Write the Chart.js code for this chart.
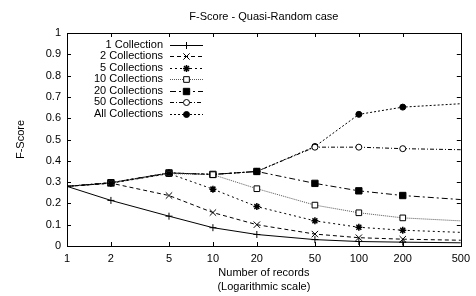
<html lang="en">
<head>
    <meta charset="UTF-8">
    <title>F-Score - Quasi-Random case</title>
    <script src="https://cdn.jsdelivr.net/npm/chart.js"></script>
    <style>
        body {
            margin: 0;
            padding: 0;
            background: #fff;
        }
        .wrap {
            width: 476px;
            height: 296px;
        }
    </style>
</head>
<body>
    <div class="wrap">
        <canvas id="fscoreChart" width="476" height="296"></canvas>
    </div>

    <script>
        // x values (number of records, log scale)
        const records = [1, 2, 5, 10, 20, 50, 100, 200, 500];
        const xTicks = [1, 2, 5, 10, 20, 50, 100, 200, 500];

        // F-Score per number of collections
        const oneCollection  = [0.28, 0.214, 0.14, 0.086, 0.054, 0.030, 0.021, 0.018, 0.015];
        const twoCollections = [0.28, 0.295, 0.237, 0.157, 0.100, 0.056, 0.039, 0.032, 0.027];
        const fiveCollections = [0.28, 0.295, 0.340, 0.267, 0.185, 0.118, 0.088, 0.074, 0.064];
        const tenCollections = [0.28, 0.295, 0.340, 0.335, 0.269, 0.192, 0.156, 0.132, 0.118];
        const twentyCollections = [0.28, 0.297, 0.343, 0.336, 0.350, 0.294, 0.259, 0.237, 0.218];
        const fiftyCollections = [0.28, 0.297, 0.343, 0.336, 0.350, 0.464, 0.464, 0.457, 0.452];
        const allCollections = [0.28, 0.297, 0.343, 0.336, 0.350, 0.467, 0.618, 0.652, 0.668];

        const seriesNames = ['1 Collection', '2 Collections', '5 Collections', '10 Collections',
                             '20 Collections', '50 Collections', 'All Collections'];

        Chart.defaults.font.family = "'Liberation Sans', Arial, sans-serif";
        Chart.defaults.font.size = 11;
        Chart.defaults.color = '#000';

        function series(label, values, style) {
            const last = values.length - 1;
            return Object.assign({
                label: label,
                data: records.map((x, i) => ({ x: x, y: values[i] })),
                borderColor: '#000',
                borderWidth: 1,
                pointBorderColor: '#000',
                pointBorderWidth: 1,
                tension: 0,
                fill: false,
                // points on the frame are clipped, like gnuplot
                pointRadius: ctx => (ctx.dataIndex === last || ctx.dataIndex === 0) ? 0 : style.r
            }, style);
        }

        const datasets = [
            series(seriesNames[0], oneCollection, { borderDash: [], pointStyle: 'cross', r: 3.5, pointBackgroundColor: '#000' }),
            series(seriesNames[1], twoCollections, { borderDash: [4, 3], pointStyle: 'crossRot', r: 4.5, pointBackgroundColor: '#000' }),
            series(seriesNames[2], fiveCollections, { borderDash: [2, 3], pointStyle: 'star', r: 3.5, pointBackgroundColor: '#000', pointBorderWidth: 1.5 }),
            series(seriesNames[3], tenCollections, { borderDash: [1, 1], borderColor: '#555', pointStyle: 'rect', r: 4, pointBackgroundColor: '#fff' }),
            series(seriesNames[4], twentyCollections, { borderDash: [6, 3, 2, 3], pointStyle: 'rect', r: 4.5, pointBackgroundColor: '#000' }),
            series(seriesNames[5], fiftyCollections, { borderDash: [4, 2, 1, 2], pointStyle: 'circle', r: 3, pointBackgroundColor: '#fff' }),
            series(seriesNames[6], allCollections, { borderDash: [2, 2], pointStyle: 'circle', r: 3, pointBackgroundColor: '#000' })
        ];

        // gnuplot-like frame, inward ticks, titles and key
        const gnuplotLook = {
            id: 'gnuplotLook',
            afterDraw(chart) {
                const ctx = chart.ctx;
                const a = chart.chartArea;
                const xs = chart.scales.x;
                const ys = chart.scales.y;
                ctx.save();
                ctx.strokeStyle = '#000';
                ctx.lineWidth = 1;
                ctx.setLineDash([]);
                ctx.strokeRect(Math.round(a.left) + 0.5, Math.round(a.top) + 0.5,
                               Math.round(a.right - a.left), Math.round(a.bottom - a.top));

                ctx.beginPath();
                xTicks.forEach(v => {
                    const px = Math.round(xs.getPixelForValue(v)) + 0.5;
                    ctx.moveTo(px, a.bottom); ctx.lineTo(px, a.bottom - 4);
                    ctx.moveTo(px, a.top); ctx.lineTo(px, a.top + 4);
                });
                ys.ticks.forEach(t => {
                    const py = Math.round(ys.getPixelForValue(t.value)) + 0.5;
                    ctx.moveTo(a.left, py); ctx.lineTo(a.left + 4, py);
                    ctx.moveTo(a.right, py); ctx.lineTo(a.right - 4, py);
                });
                ctx.stroke();

                ctx.fillStyle = '#000';
                ctx.font = "11px 'Liberation Sans', Arial, sans-serif";
                ctx.textAlign = 'center';
                ctx.textBaseline = 'middle';
                const cx = (a.left + a.right) / 2;
                ctx.fillText('F-Score - Quasi-Random case', cx, 17);
                ctx.fillText('Number of records', cx, 273);
                ctx.fillText('(Logarithmic scale)', cx, 287);

                ctx.save();
                ctx.translate(21, (a.top + a.bottom) / 2);
                ctx.rotate(-Math.PI / 2);
                ctx.fillText('F-Score', 0, 0);
                ctx.restore();

                // key
                chart.data.datasets.forEach((ds, i) => {
                    const y = 44.5 + i * 11.5;
                    ctx.textAlign = 'right';
                    ctx.fillStyle = '#000';
                    ctx.fillText(ds.label, 163, y);
                    ctx.strokeStyle = ds.borderColor;
                    ctx.setLineDash(ds.borderDash);
                    ctx.beginPath();
                    ctx.moveTo(170, Math.round(y) + 0.5);
                    ctx.lineTo(203, Math.round(y) + 0.5);
                    ctx.stroke();
                    ctx.setLineDash([]);
                    ctx.strokeStyle = '#000';
                    ctx.fillStyle = ds.pointBackgroundColor;
                    ctx.lineWidth = ds.pointBorderWidth;
                    Chart.helpers.drawPoint(ctx, { pointStyle: ds.pointStyle, radius: ds.r, rotation: 0, borderWidth: ds.pointBorderWidth }, 186.5, Math.round(y) + 0.5);
                    ctx.lineWidth = 1;
                });
                ctx.restore();
            }
        };

        new Chart(document.getElementById('fscoreChart'), {
            type: 'line',
            data: { datasets: datasets },
            options: {
                responsive: false,
                animation: false,
                layout: { padding: { top: 33, right: 11, left: 0, bottom: 0 } },
                plugins: {
                    legend: { display: false },
                    title: { display: false },
                    tooltip: { enabled: false }
                },
                scales: {
                    x: {
                        type: 'logarithmic',
                        min: 1,
                        max: 500,
                        afterBuildTicks: scale => { scale.ticks = xTicks.map(v => ({ value: v })); },
                        afterFit: scale => { scale.height = 50; },
                        grid: { display: false, drawTicks: false },
                        border: { display: false },
                        ticks: {
                            padding: 6,
                            maxRotation: 0,
                            autoSkip: false,
                            callback: v => String(v)
                        }
                    },
                    y: {
                        min: 0,
                        max: 1,
                        afterFit: scale => { scale.width = 67; },
                        grid: { display: false, drawTicks: false },
                        border: { display: false },
                        ticks: {
                            stepSize: 0.1,
                            padding: 6,
                            callback: v => String(+v.toFixed(1))
                        }
                    }
                }
            },
            plugins: [gnuplotLook]
        });
    </script>
</body>
</html>
